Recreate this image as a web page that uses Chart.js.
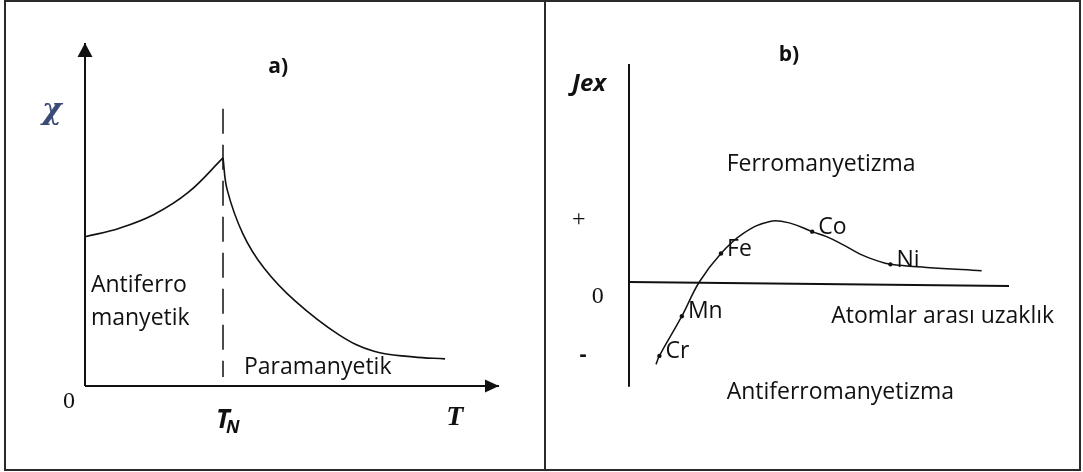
<!DOCTYPE html>
<html>
<head>
<meta charset="utf-8">
<script src="https://cdn.jsdelivr.net/npm/chart.js@4.4.1/dist/chart.umd.min.js"></script>
<style>
  body { margin: 0; background: #fff; }
  #wrap { position: relative; width: 1083px; height: 472px; overflow: hidden; }
  #frame { position: absolute; left: 4px; top: 0; width: 1073px; height: 467px; border: 2px solid #2a2a2a; }
  #divider { position: absolute; left: 544px; top: 0; width: 2px; height: 471px; background: #2a2a2a; }
  canvas { position: absolute; top: 0; }
  #chart_a { left: 0; }
  #chart_b { left: 545px; }
</style>
</head>
<body>
<div id="wrap">
  <div id="frame"></div>
  <div id="divider"></div>
  <canvas id="chart_a" width="545" height="472"></canvas>
  <canvas id="chart_b" width="538" height="472"></canvas>
</div>
<script>
/////////////////////////////////// VARIABLES ///////////////////////////////////

// a) susceptibility, T in units of T_N
const chi_below_T = [0, 0.25, 0.5, 0.75, 1.0];
const chi_below = [4.35, 4.6, 5.0, 5.65, 6.65];
const chi_above_T = [1.0, 1.031, 1.145, 1.297, 1.522, 1.841, 2.094, 2.377, 2.609];
const chi_above = [6.65, 5.71, 4.43, 3.44, 2.48, 1.49, 1.01, 0.85, 0.79];
const neel_T = 1.0;
const neel_line = [8.08, 0.26];
const t_max = 3;
const chi_max = 10;

// b) exchange integral vs interatomic distance
const jex_r = [0.71, 0.8, 1.39, 1.85, 2.42, 3.01, 3.71, 4.24, 4.82, 5.2, 5.64, 6.08, 6.52, 6.88, 7.83, 9.28];
const jex = [-3.78, -3.39, -1.57, 0, 1.31, 2.23, 2.78, 2.7, 2.31, 2.08, 1.7, 1.28, 0.98, 0.81, 0.67, 0.52];
const metals = ['Cr', 'Mn', 'Fe', 'Co', 'Ni'];
const metal_r = [0.8, 1.39, 2.42, 4.82, 6.88];
const metal_jex = [-3.39, -1.57, 1.31, 2.31, 0.81];
const r_max = 10;
const r_axis_end = -0.18;
const jex_axis = [-4.8, 10];

const INK = '#111';
const TEXT_FONT = '23px "Open Sans"';


/////////////////////////////////// FUNCTIONS ///////////////////////////////////

function toPoints(xs, ys) {
    return xs.map((v, i) => ({ x: v, y: ys[i] }));
}

function arrowHead(ctx, tipX, tipY, dir) {
    // filled triangle, dir 'up' or 'right'
    ctx.beginPath();
    if (dir === 'up') {
        ctx.moveTo(tipX, tipY);
        ctx.lineTo(tipX - 7.5, tipY + 14);
        ctx.lineTo(tipX + 7.5, tipY + 14);
    } else {
        ctx.moveTo(tipX, tipY);
        ctx.lineTo(tipX - 14, tipY - 6.5);
        ctx.lineTo(tipX - 14, tipY + 6.5);
    }
    ctx.closePath();
    ctx.fill();
}

function drawText(ctx, x, y, t) {
    ctx.font = t.font || TEXT_FONT;
    ctx.fillStyle = t.color || INK;
    ctx.textAlign = t.align || 'left';
    ctx.textBaseline = 'middle';
    const px = x.getPixelForValue(t.x);
    const py = y.getPixelForValue(t.y);
    ctx.fillText(t.text, px, py);
    if (t.sub) {
        const w = ctx.measureText(t.text).width;
        ctx.font = t.subFont;
        ctx.textAlign = 'left';
        const left = t.align === 'center' ? px + w / 2 : px + w;
        ctx.fillText(t.sub, left - 4, py + 8);
    }
}

// axes, arrows and text drawn on top of the datasets
const annotations = {
    id: 'annotations',
    afterDatasetsDraw(chart, args, opts) {
        const { ctx, scales: { x, y } } = chart;
        ctx.save();
        ctx.strokeStyle = INK;
        ctx.fillStyle = INK;
        ctx.lineWidth = 2;
        opts.lines.forEach(l => {
            ctx.beginPath();
            ctx.moveTo(x.getPixelForValue(l[0]), y.getPixelForValue(l[1]));
            ctx.lineTo(x.getPixelForValue(l[2]), y.getPixelForValue(l[3]));
            ctx.stroke();
            if (l[4]) arrowHead(ctx, x.getPixelForValue(l[2]), y.getPixelForValue(l[3]), l[4]);
        });
        opts.texts.forEach(t => drawText(ctx, x, y, t));
        ctx.restore();
    }
};


/////////////////////////////////// CHART a) ///////////////////////////////////

const curveStyle = {
    showLine: true,
    borderColor: INK,
    borderWidth: 1.6,
    pointRadius: 0,
    tension: 0.4,
    clip: false
};

const chart_a = new Chart(document.getElementById('chart_a'), {
    type: 'scatter',
    data: {
        datasets: [
            { ...curveStyle, data: toPoints(chi_below_T, chi_below) },
            { ...curveStyle, data: toPoints(chi_above_T, chi_above) },
            { ...curveStyle, borderWidth: 1.5, borderDash: [25, 11], tension: 0,
              data: toPoints([neel_T, neel_T], neel_line) }
        ]
    },
    options: {
        responsive: false,
        animation: false,
        events: [],
        layout: { padding: { left: 85, right: 46, top: 43, bottom: 86 } },
        scales: {
            x: { type: 'linear', display: false, min: 0, max: t_max },
            y: { type: 'linear', display: false, min: 0, max: chi_max }
        },
        plugins: {
            legend: { display: false },
            tooltip: { enabled: false },
            annotations: {
                lines: [
                    [0, 0, 0, chi_max, 'up'],
                    [0, 0, t_max, 0, 'right']
                ],
                texts: [
                    { text: 'a)', x: 1.40, y: 9.30, font: 'bold 21px "Open Sans"', align: 'center' },
                    { text: '\u03c7', x: -0.24, y: 8.0, font: 'bold italic 30px "DejaVu Serif"', align: 'center', color: '#3c4a78' },
                    { text: 'Antiferro', x: 0.043, y: 2.92 },
                    { text: 'manyetik', x: 0.043, y: 1.98 },
                    { text: 'Paramanyetik', x: 1.152, y: 0.55 },
                    { text: '0', x: -0.116, y: -0.47, font: '24px "Liberation Serif"', align: 'center' },
                    { text: 'T', x: 1.0, y: -1.0, font: 'bold italic 26px "Open Sans"', align: 'center',
                      sub: 'N', subFont: 'bold italic 18px "Open Sans"' },
                    { text: 'T', x: 2.68, y: -0.93, font: 'bold italic 28px "Liberation Serif"', align: 'center' }
                ]
            }
        }
    },
    plugins: [annotations]
});


/////////////////////////////////// CHART b) ///////////////////////////////////

const chart_b = new Chart(document.getElementById('chart_b'), {
    type: 'scatter',
    data: {
        datasets: [
            { ...curveStyle, borderWidth: 1.5, data: toPoints(jex_r, jex) },
            { data: toPoints(metal_r, metal_jex), pointRadius: 2.2, pointBackgroundColor: INK,
              pointBorderWidth: 0, showLine: false, clip: false }
        ]
    },
    options: {
        responsive: false,
        animation: false,
        events: [],
        layout: { padding: { left: 84, right: 74, top: 64, bottom: 81 } },
        scales: {
            x: { type: 'linear', display: false, min: 0, max: r_max },
            y: { type: 'linear', display: false, min: -5, max: 10 }
        },
        plugins: {
            legend: { display: false },
            tooltip: { enabled: false },
            annotations: {
                lines: [
                    [0, jex_axis[0], 0, jex_axis[1]],
                    [0, 0, r_max, r_axis_end]
                ],
                texts: [
                    { text: 'b)', x: 4.21, y: 10.41, font: 'bold 21px "Open Sans"', align: 'center' },
                    { text: 'Jex', x: -1.5, y: 9.08, font: 'bold italic 24px "Open Sans"' },
                    { text: 'Ferromanyetizma', x: 2.57, y: 5.41 },
                    { text: '+', x: -1.32, y: 2.84, font: '24px "Liberation Serif"', align: 'center' },
                    { text: '0', x: -0.82, y: -0.67, font: '24px "Liberation Serif"', align: 'center' },
                    { text: '-', x: -1.21, y: -3.35, font: 'bold 22px "Open Sans"', align: 'center' },
                    { text: 'Atomlar aras\u0131 uzakl\u0131k', x: 5.32, y: -1.56 },
                    { text: 'Antiferromanyetizma', x: 2.57, y: -5.05 }
                ].concat(metals.map((m, i) => ({
                    text: m, x: metal_r[i] + 0.16, y: metal_jex[i] + 0.2
                })))
            }
        }
    },
    plugins: [annotations]
});
</script>
</body>
</html>
